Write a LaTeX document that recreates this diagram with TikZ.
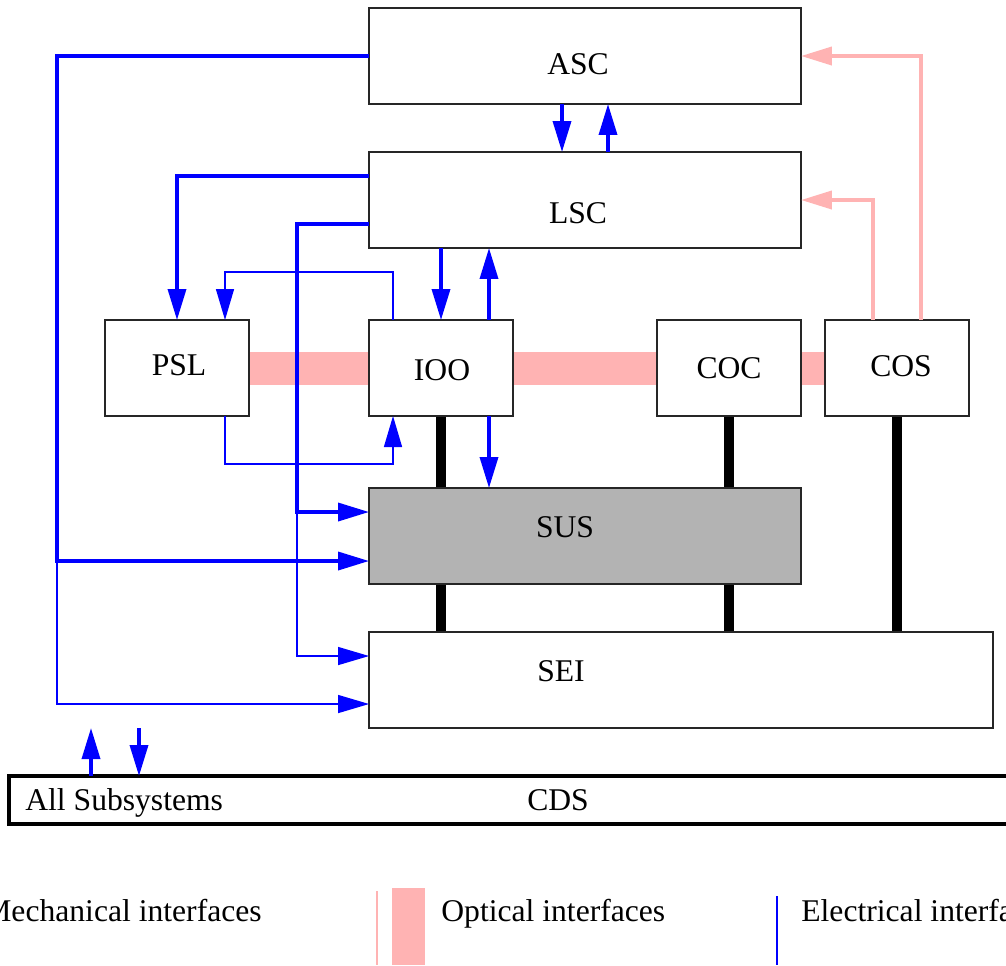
\documentclass[tikz,border=0pt]{standalone}
\usepackage{fontspec}
\setmainfont{Liberation Serif}
\usetikzlibrary{arrows.meta, calc, backgrounds}
\definecolor{elec-blue}{HTML}{0000FF}
\definecolor{optic-pink}{HTML}{FFB3B3}
\definecolor{sus-gray}{HTML}{B3B3B3}

\begin{document}
\begin{tikzpicture}[x=0.02cm, y=-0.02cm,
        every node/.style={font=\fontsize{18}{21}\selectfont},
        box/.style={draw=black!85, line width=0.8pt, fill=white,
                    inner sep=0pt, outer sep=0pt, minimum height=1.92cm},
        widebox/.style={box, minimum width=8.64cm},
        smallbox/.style={box, minimum width=2.88cm},
        tip/.style={-{Triangle[length=0.62cm, width=0.36cm]}},
        ethick/.style={elec-blue, line width=2pt, tip},
        ethin/.style={elec-blue, line width=0.8pt, tip},
        oarrow/.style={optic-pink, line width=2.2pt, tip},
        optic/.style={optic-pink, line width=0.66cm},
        mech/.style={black, line width=0.2cm}]
      \useasboundingbox (0,0) rectangle (1006,965);
      % subsystem boxes
      \node[widebox] (asc) at (585,56) {};
      \node[widebox] (lsc) at (585,200) {};
      \node[smallbox] (psl) at (177,368) {};
      \node[smallbox] (ioo) at (441,368) {};
      \node[smallbox] (coc) at (729,368) {};
      \node[smallbox] (cos) at (897,368) {};
      \node[widebox, fill=sus-gray] (sus) at (585,536) {};
      \node[box, minimum width=12.48cm] (sei) at (681,680) {};
      \node[draw, line width=2.3pt, fill=white, inner sep=0pt, outer sep=0pt,
            minimum width=20.06cm, minimum height=0.96cm] (cds) at (510.5,800) {};
      \node[anchor=base] (ascl) at (578,74) {ASC};
      \node[anchor=base] (lscl) at (578,223) {LSC};
      \node[anchor=base] (psll) at (179,375) {PSL};
      \node[anchor=base] (iool) at (442,380) {IOO};
      \node[anchor=base] (cocl) at (729,378) {COC};
      \node[anchor=base] (cosl) at (901,376) {COS};
      \node[anchor=base] (susl) at (565,537) {SUS};
      \node[anchor=base] (seil) at (561,681) {SEI};
      \node[anchor=base] (cdsl) at (558,810) {CDS};
      \node[anchor=base west, inner sep=0pt] (alll) at (25,810) {All Subsystems};
      % optical bench and mechanical links
      \begin{scope}[on background layer]
        \draw[optic] (psl.east) -- (cos.west);
        \draw[mech] (ioo.south) -- (ioo.south |- sei.north);
        \draw[mech] (coc.south) -- (coc.south |- sei.north);
        \draw[mech] (cos.south) -- (cos.south |- sei.north);
      \end{scope}
      % electrical links
      \coordinate (ascbus) at (57,561);
      \coordinate (lscbus) at (297,512);
      \coordinate (pslup) at (225,272);
      \coordinate (psldn) at (225,464);
      \coordinate (cdsup) at (91,728);
      \coordinate (cdsdn) at (139,728);
      \draw[ethin] (ascbus) |- ($(sei.west)+(0,24)$);
      \draw[ethin] (lscbus) |- ($(sei.west)+(0,-24)$);
      \draw[ethick] (asc.west) -| (ascbus) -- (ascbus -| sus.west);
      \draw[ethick] ($(lsc.west)+(0,24)$) -| (lscbus) -- (lscbus -| sus.west);
      \draw[ethick] ($(lsc.west)+(0,-24)$) -| (psl.north);
      \draw[ethick] ($(asc.south)+(-23,0)$) -- ($(lsc.north)+(-23,0)$);
      \draw[ethick] ($(lsc.north)+(23,0)$) -- ($(asc.south)+(23,0)$);
      \draw[ethick] (lsc.south -| ioo.north) -- (ioo.north);
      \draw[ethick] ($(ioo.north)+(48,0)$) -- ($(lsc.south)+(-96,0)$);
      \draw[ethick] ($(ioo.south)+(48,0)$) -- ($(sus.north)+(-96,0)$);
      \draw[ethin] ($(ioo.north)+(-48,0)$) |- (pslup) -- (pslup |- psl.north);
      \draw[ethin] ($(psl.south)+(48,0)$) -- (psldn) -| ($(ioo.south)+(-48,0)$);
      \draw[ethick] (cdsup |- cds.north) -- (cdsup);
      \draw[ethick] (cdsdn) -- (cdsdn |- cds.north);
      % optical links
      \draw[oarrow] ($(cos.north)+(24,0)$) |- (asc.east);
      \draw[oarrow] ($(cos.north)+(-24,0)$) |- (lsc.east);
      % legend
      \node[anchor=base west, inner sep=0pt] (mechl) at (-17,921) {Mechanical interfaces};
      \draw[optic-pink, line width=0.6pt] (377,891) -- (377,965);
      \draw[optic-pink, line width=0.66cm] (408.5,888) -- (408.5,965);
      \node[anchor=base west, inner sep=0pt] (optl) at (441,921) {Optical interfaces};
      \draw[elec-blue, line width=0.8pt] (777,896) -- (777,965);
      \node[anchor=base west, inner sep=0pt] (elecl) at (801,921) {Electrical interfaces};
    \end{tikzpicture}
\end{document}
